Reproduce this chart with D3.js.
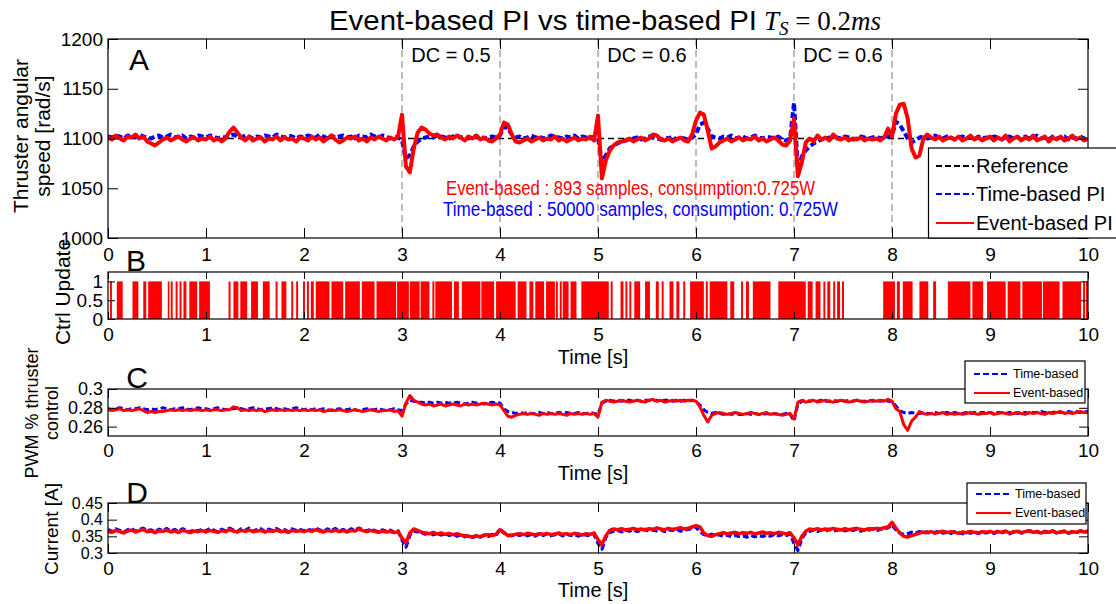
<!DOCTYPE html>
<html><head><meta charset="utf-8">
<script src="https://cdn.jsdelivr.net/npm/d3@7"></script>
<style>
body{margin:0;background:#fff;}
svg{display:block;font-family:"Liberation Sans",Arial,sans-serif;}
</style></head><body>
<svg id="c" width="1116" height="604"></svg>
<script>
// ---------- data ----------
const sampleStep = 0.04; // seconds between samples (t = index * step)
const timeTicks = [0,1,2,3,4,5,6,7,8,9,10];
const speedTicks = [1000,1050,1100,1150,1200];
const updateTicks = [0,0.5,1];
const pwmTicks = [0.26,0.28,0.3];
const currentTicks = [0.3,0.35,0.4,0.45];
const referenceSpeed = [[0,1100],[10,1100]];
const dcLines = [3,4,5,6,7,8];
const dcLabelTimes = [3.5,5.5,7.5];
const dcLabelTexts = ["DC = 0.5","DC = 0.6","DC = 0.6"];

const speedTime = [
1102,1101,1103,1102,1100,1103,1102,1101,1104,1102,1101,1100,1102,1103,1101,1102,1104,1101,1102,1103,1100,1102,1101,1103,1102,
1101,1103,1102,1100,1102,1101,1103,1104,1102,1101,1103,1102,1100,1102,1101,1103,1102,1101,1104,1102,1101,1103,1102,1100,1102,
1101,1103,1102,1101,1104,1102,1100,1103,1101,1102,1103,1101,1102,1100,1103,1102,1101,1104,1102,1101,1103,1102,1100,1102,1101,
1098,1080,1083,1092,1097,1100,1101,1102,1101,1103,1102,1101,1100,1102,1103,1101,1102,1100,1103,1101,1102,1100,1101,1102,1101,
1103,1112,1110,1104,1101,1102,1100,1101,1103,1101,1102,1100,1101,1103,1102,1101,1100,1102,1101,1103,1100,1102,1101,1100,1102,
1100,1077,1083,1090,1093,1095,1097,1098,1099,1100,1101,1099,1100,1102,1101,1100,1099,1101,1100,1102,1099,1101,1100,1099,1101,
1104,1114,1116,1110,1102,1101,1100,1102,1101,1103,1100,1101,1102,1100,1101,1103,1101,1100,1102,1101,1100,1102,1099,1098,1100,
1136,1070,1082,1088,1092,1095,1097,1099,1100,1101,1099,1101,1100,1102,1101,1099,1100,1102,1101,1100,1101,1102,1100,1101,1102,
1103,1117,1114,1107,1100,1096,1098,1101,1102,1100,1101,1103,1101,1100,1102,1101,1099,1101,1102,1100,1101,1099,1102,1100,1101,
1100,1102,1101,1099,1101,1102,1100,1101,1099,1102,1100,1101,1103,1100,1101,1099,1102,1100,1101,1102,1099,1101,1100,1102,1100,
1101];
const speedEvent = [
1101,1099,1103,1100,1098,1102,1101,1104,1100,1102,1097,1095,1093,1096,1099,1101,1098,1100,1102,1099,1097,1100,1101,1098,1100,
1099,1102,1098,1100,1097,1100,1107,1111,1106,1101,1098,1102,1098,1100,1101,1097,1100,1099,1102,1098,1101,1099,1100,1097,1101,
1100,1098,1102,1099,1101,1097,1100,1103,1099,1096,1098,1101,1100,1102,1098,1100,1097,1101,1099,1102,1100,1098,1101,1099,1102,
1124,1072,1066,1090,1106,1111,1109,1105,1103,1104,1101,1099,1102,1100,1103,1101,1098,1102,1100,1103,1099,1101,1098,1097,1100,
1104,1116,1114,1104,1097,1096,1098,1100,1097,1099,1101,1098,1100,1099,1102,1098,1100,1097,1099,1101,1098,1100,1099,1102,1098,
1123,1060,1078,1088,1093,1096,1097,1098,1100,1097,1099,1101,1098,1100,1104,1103,1099,1098,1100,1097,1099,1101,1098,1097,1104,
1118,1126,1124,1108,1090,1092,1096,1098,1100,1097,1099,1101,1098,1100,1099,1102,1098,1100,1097,1099,1101,1098,1094,1093,1098,
1120,1062,1076,1096,1100,1097,1103,1099,1101,1098,1104,1100,1099,1101,1098,1100,1099,1101,1098,1100,1099,1100,1098,1101,1110,
1102,1125,1134,1135,1120,1090,1081,1083,1100,1104,1101,1099,1102,1098,1100,1101,1099,1102,1098,1100,1103,1099,1101,1098,1100,
1102,1098,1101,1099,1103,1097,1100,1102,1098,1101,1099,1103,1098,1100,1102,1097,1101,1099,1102,1098,1100,1103,1099,1101,1098,
1100];

const updateBlocks = [
[0.02,0.04],[0.09,0.15],[0.25,0.31],[0.36,0.39],[0.41,0.55],[0.61,0.62],[0.64,0.66],[0.69,0.71],[0.73,0.75],[0.77,0.80],[0.83,0.91],[0.93,1.04],
[1.23,1.25],[1.28,1.33],[1.35,1.42],[1.46,1.53],[1.58,1.65],[1.71,1.73],[1.77,1.82],[1.87,1.89],[1.92,1.94],[1.99,2.01],[2.03,2.05],[2.07,2.10],
[2.12,2.26],[2.28,2.40],[2.42,2.57],[2.59,2.72],[2.74,2.94],[2.95,3.07],[3.08,3.18],[3.19,3.28],[3.31,3.33],[3.34,3.51],[3.53,3.58],[3.61,3.80],
[3.81,3.94],[3.96,4.16],[4.18,4.27],[4.30,4.34],[4.36,4.45],[4.47,4.56],[4.57,4.59],[4.61,4.63],[4.64,4.70],[4.72,4.78],[4.83,5.11],[5.13,5.15],
[5.23,5.26],[5.28,5.30],[5.32,5.34],[5.37,5.43],[5.48,5.53],[5.59,5.62],[5.65,5.67],[5.73,5.77],[5.80,5.83],[5.87,5.89],[5.94,6.08],[6.10,6.12],
[6.14,6.32],[6.35,6.39],[6.46,6.48],[6.51,6.54],[6.58,6.76],[6.84,7.12],[7.14,7.19],[7.22,7.27],[7.30,7.32],[7.34,7.37],[7.40,7.42],[7.44,7.47],
[7.49,7.51],[7.91,8.03],[8.05,8.08],[8.11,8.21],[8.28,8.37],[8.42,8.45],[8.57,8.80],[8.82,8.93],[8.97,9.16],[9.18,9.31],[9.33,9.53],[9.54,9.71],
[9.74,9.93],[9.95,9.97],[9.98,10.0]];

const pwmTime = [
0.279,0.278,0.279,0.280,0.279,0.278,0.279,0.279,0.280,0.279,0.278,0.279,0.278,0.279,0.280,0.279,0.278,0.279,0.279,0.280,0.279,0.278,0.279,0.280,0.279,
0.279,0.278,0.279,0.280,0.279,0.278,0.279,0.279,0.280,0.279,0.278,0.279,0.280,0.279,0.278,0.279,0.279,0.280,0.279,0.278,0.279,0.278,0.279,0.280,0.279,
0.278,0.279,0.278,0.279,0.278,0.279,0.278,0.277,0.278,0.279,0.278,0.278,0.279,0.278,0.277,0.278,0.279,0.278,0.278,0.279,0.278,0.277,0.278,0.279,0.278,
0.277,0.284,0.288,0.287,0.286,0.286,0.285,0.286,0.285,0.286,0.285,0.286,0.285,0.285,0.286,0.285,0.284,0.285,0.286,0.285,0.285,0.284,0.285,0.286,0.285,
0.285,0.279,0.276,0.275,0.274,0.275,0.274,0.275,0.274,0.274,0.275,0.274,0.275,0.274,0.274,0.275,0.274,0.275,0.274,0.274,0.275,0.274,0.274,0.275,0.274,
0.273,0.285,0.287,0.288,0.287,0.288,0.287,0.288,0.288,0.287,0.288,0.287,0.288,0.288,0.287,0.288,0.287,0.288,0.288,0.287,0.288,0.287,0.288,0.287,0.288,
0.287,0.283,0.278,0.275,0.274,0.275,0.274,0.273,0.274,0.273,0.274,0.273,0.273,0.274,0.273,0.274,0.273,0.273,0.274,0.273,0.274,0.273,0.273,0.274,0.273,
0.266,0.284,0.287,0.288,0.287,0.288,0.287,0.288,0.287,0.287,0.288,0.287,0.288,0.287,0.288,0.287,0.288,0.287,0.287,0.288,0.287,0.288,0.287,0.288,0.287,
0.287,0.282,0.277,0.275,0.274,0.275,0.274,0.274,0.275,0.274,0.274,0.275,0.274,0.274,0.275,0.274,0.275,0.274,0.274,0.275,0.274,0.275,0.274,0.275,0.275,
0.275,0.274,0.275,0.275,0.274,0.275,0.275,0.274,0.275,0.275,0.274,0.275,0.275,0.276,0.275,0.274,0.275,0.276,0.275,0.275,0.276,0.275,0.276,0.275,0.276,
0.276];
const pwmEvent = [
0.278,0.277,0.278,0.279,0.277,0.278,0.277,0.278,0.279,0.277,0.275,0.276,0.275,0.276,0.276,0.277,0.278,0.277,0.278,0.277,0.278,0.277,0.278,0.278,0.277,
0.278,0.277,0.278,0.278,0.277,0.278,0.278,0.281,0.280,0.277,0.278,0.277,0.278,0.277,0.278,0.276,0.277,0.278,0.277,0.278,0.277,0.278,0.277,0.278,0.277,
0.278,0.277,0.278,0.277,0.278,0.276,0.277,0.278,0.277,0.278,0.277,0.276,0.277,0.278,0.277,0.276,0.277,0.278,0.277,0.276,0.277,0.277,0.278,0.276,0.277,
0.271,0.285,0.293,0.288,0.286,0.284,0.283,0.284,0.282,0.283,0.284,0.282,0.283,0.284,0.283,0.282,0.284,0.283,0.284,0.283,0.284,0.285,0.284,0.283,0.284,
0.283,0.277,0.271,0.270,0.272,0.273,0.274,0.273,0.274,0.273,0.272,0.274,0.273,0.274,0.273,0.274,0.273,0.272,0.274,0.273,0.274,0.273,0.274,0.273,0.274,
0.270,0.286,0.288,0.287,0.286,0.287,0.288,0.287,0.286,0.287,0.288,0.287,0.286,0.288,0.289,0.287,0.288,0.286,0.287,0.288,0.287,0.288,0.287,0.288,0.288,
0.287,0.281,0.272,0.265,0.272,0.274,0.275,0.274,0.273,0.274,0.275,0.274,0.273,0.274,0.275,0.274,0.273,0.274,0.275,0.273,0.274,0.273,0.272,0.273,0.274,
0.268,0.286,0.288,0.286,0.287,0.288,0.286,0.287,0.288,0.287,0.286,0.287,0.288,0.287,0.286,0.287,0.288,0.287,0.286,0.287,0.288,0.287,0.288,0.287,0.289,
0.287,0.279,0.276,0.262,0.256,0.266,0.270,0.276,0.274,0.273,0.274,0.273,0.274,0.275,0.273,0.274,0.273,0.274,0.273,0.274,0.275,0.274,0.273,0.274,0.274,
0.275,0.273,0.274,0.275,0.274,0.273,0.274,0.275,0.274,0.273,0.275,0.274,0.275,0.274,0.273,0.275,0.274,0.275,0.276,0.274,0.275,0.274,0.275,0.276,0.275,
0.275];

const currentTime = [
0.370,0.364,0.372,0.367,0.362,0.369,0.373,0.365,0.370,0.374,0.366,0.369,0.363,0.371,0.367,0.373,0.365,0.370,0.364,0.372,0.368,0.363,0.370,0.366,0.371,
0.366,0.373,0.368,0.363,0.371,0.366,0.374,0.369,0.364,0.372,0.367,0.374,0.365,0.370,0.372,0.364,0.371,0.367,0.373,0.366,0.370,0.363,0.372,0.367,0.370,
0.366,0.371,0.367,0.374,0.369,0.364,0.372,0.367,0.373,0.365,0.370,0.364,0.372,0.368,0.374,0.370,0.365,0.372,0.367,0.363,0.369,0.365,0.368,0.362,0.366,
0.340,0.318,0.355,0.366,0.364,0.360,0.357,0.362,0.355,0.359,0.354,0.360,0.353,0.357,0.351,0.355,0.349,0.353,0.347,0.352,0.348,0.354,0.350,0.355,0.353,
0.372,0.360,0.355,0.352,0.357,0.353,0.358,0.352,0.356,0.351,0.357,0.353,0.358,0.352,0.355,0.359,0.352,0.357,0.353,0.356,0.351,0.357,0.354,0.352,0.356,
0.330,0.312,0.348,0.362,0.366,0.368,0.364,0.369,0.366,0.370,0.365,0.368,0.371,0.366,0.369,0.367,0.371,0.365,0.370,0.368,0.372,0.366,0.369,0.371,0.374,
0.378,0.365,0.356,0.352,0.356,0.351,0.355,0.350,0.354,0.349,0.353,0.350,0.352,0.348,0.353,0.349,0.352,0.350,0.354,0.351,0.356,0.352,0.355,0.353,0.357,
0.330,0.308,0.345,0.360,0.366,0.369,0.365,0.370,0.367,0.371,0.366,0.369,0.372,0.367,0.370,0.368,0.372,0.366,0.370,0.369,0.373,0.367,0.371,0.374,0.376,
0.385,0.370,0.360,0.355,0.358,0.362,0.359,0.364,0.360,0.363,0.358,0.362,0.365,0.360,0.363,0.359,0.364,0.361,0.358,0.363,0.360,0.364,0.359,0.362,0.361,
0.363,0.359,0.365,0.361,0.364,0.358,0.363,0.366,0.360,0.363,0.367,0.361,0.364,0.359,0.365,0.362,0.366,0.360,0.363,0.365,0.359,0.364,0.361,0.366,0.364,
0.365];
const currentEvent = [
0.365,0.362,0.368,0.364,0.360,0.366,0.369,0.363,0.367,0.370,0.364,0.366,0.361,0.367,0.365,0.369,0.363,0.366,0.362,0.368,0.365,0.361,0.366,0.364,0.367,
0.363,0.368,0.365,0.362,0.367,0.364,0.370,0.366,0.363,0.368,0.365,0.369,0.364,0.366,0.368,0.363,0.367,0.365,0.369,0.364,0.366,0.362,0.368,0.365,0.367,
0.364,0.368,0.365,0.370,0.366,0.363,0.368,0.365,0.369,0.364,0.367,0.363,0.368,0.366,0.372,0.367,0.364,0.368,0.365,0.362,0.366,0.363,0.365,0.361,0.364,
0.345,0.330,0.360,0.372,0.368,0.362,0.360,0.358,0.362,0.357,0.360,0.356,0.359,0.355,0.358,0.354,0.352,0.350,0.348,0.351,0.349,0.353,0.355,0.352,0.356,
0.370,0.362,0.352,0.353,0.356,0.358,0.355,0.359,0.357,0.354,0.358,0.356,0.359,0.355,0.357,0.360,0.356,0.358,0.355,0.359,0.357,0.354,0.358,0.356,0.360,
0.340,0.325,0.352,0.368,0.372,0.370,0.373,0.369,0.371,0.374,0.370,0.372,0.369,0.373,0.371,0.375,0.372,0.370,0.374,0.371,0.373,0.376,0.372,0.374,0.378,
0.382,0.378,0.360,0.352,0.350,0.355,0.358,0.361,0.357,0.360,0.362,0.358,0.361,0.359,0.362,0.357,0.360,0.363,0.359,0.361,0.358,0.362,0.360,0.357,0.361,
0.345,0.325,0.350,0.365,0.372,0.370,0.373,0.369,0.372,0.370,0.374,0.371,0.369,0.373,0.370,0.372,0.374,0.371,0.369,0.373,0.371,0.374,0.372,0.376,0.378,
0.392,0.375,0.360,0.350,0.348,0.352,0.356,0.360,0.363,0.361,0.364,0.360,0.363,0.365,0.361,0.364,0.362,0.359,0.363,0.361,0.365,0.362,0.360,0.364,0.362,
0.365,0.361,0.364,0.362,0.366,0.360,0.363,0.365,0.361,0.364,0.367,0.362,0.365,0.360,0.364,0.362,0.366,0.361,0.363,0.365,0.360,0.364,0.362,0.366,0.363,
0.364];

// ---------- drawing ----------
const svg = d3.select("#c");
const SANS = "'Liberation Sans',Arial,sans-serif";
const RED = "#ff0000", BLUE = "#0000ff";
const X0 = 108, X1 = 1088;
const x = d3.scaleLinear().domain([0,10]).range([X0,X1]);

const panels = {
  A:{top:39,bottom:238,domain:[1000,1200],ticks:speedTicks,pad:10,tick:10,fs:19},
  B:{top:272,bottom:319,domain:[0,1.25],ticks:updateTicks,pad:9,tick:7,fs:19},
  C:{top:389,bottom:436,domain:[0.25,0.30],ticks:pwmTicks,pad:8,tick:9,fs:18},
  D:{top:503,bottom:553,domain:[0.30,0.45],ticks:currentTicks,pad:9,tick:9,fs:16}
};
const defs = svg.append("defs");
Object.entries(panels).forEach(([k,p])=>{
  p.y = d3.scaleLinear().domain(p.domain).range([p.bottom,p.top]);
  defs.append("clipPath").attr("id","clip"+k).append("rect")
    .attr("x",X0).attr("y",p.top).attr("width",X1-X0).attr("height",p.bottom-p.top);
});

function drawAxes(p){
  const g = svg.append("g");
  g.append("rect").attr("x",X0).attr("y",p.top).attr("width",X1-X0).attr("height",p.bottom-p.top)
    .attr("fill","none").attr("stroke","#000").attr("stroke-width",1.2);
  const gb = g.append("g").attr("transform",`translate(0,${p.bottom})`)
    .call(d3.axisBottom(x).tickValues(timeTicks).tickFormat(d=>String(d)).tickSizeInner(-p.tick).tickSizeOuter(0).tickPadding(p.pad));
  g.append("g").attr("transform",`translate(0,${p.top})`)
    .call(d3.axisTop(x).tickValues(timeTicks).tickFormat("").tickSizeInner(-p.tick).tickSizeOuter(0));
  const gl = g.append("g").attr("transform",`translate(${X0},0)`)
    .call(d3.axisLeft(p.y).tickValues(p.ticks).tickFormat(d=>String(d)).tickSizeInner(-p.tick).tickSizeOuter(0).tickPadding(5));
  g.append("g").attr("transform",`translate(${X1},0)`)
    .call(d3.axisRight(p.y).tickValues(p.ticks).tickFormat("").tickSizeInner(-p.tick).tickSizeOuter(0));
  g.selectAll(".domain").remove();
  g.selectAll("g").attr("font-family",SANS);
  gb.attr("font-size",19);
  gl.attr("font-size",p.fs);
  g.selectAll("text").attr("fill","#000");
  g.selectAll(".tick line").attr("stroke","#000").attr("stroke-width",1);
}

function drawSeries(k, values, color, dashed, width){
  const p = panels[k];
  const line = d3.line().x((d,i)=>x(i*sampleStep)).y(d=>p.y(d));
  svg.append("path").datum(values).attr("clip-path",`url(#clip${k})`)
    .attr("d",line).attr("fill","none").attr("stroke",color)
    .attr("stroke-width",width).attr("stroke-linejoin","round")
    .attr("stroke-dasharray",dashed?"6,3":null);
}

// Panel A
const pA = panels.A;
svg.append("g").selectAll("line").data(dcLines).join("line")
  .attr("x1",d=>x(d)).attr("x2",d=>x(d)).attr("y1",pA.top).attr("y2",pA.bottom)
  .attr("stroke","#a8a8a8").attr("stroke-width",1.5).attr("stroke-dasharray","7,4");
svg.append("path").datum(referenceSpeed)
  .attr("d",d3.line().x(d=>x(d[0])).y(d=>pA.y(d[1])))
  .attr("stroke","#000").attr("stroke-width",1.5).attr("stroke-dasharray","6,4").attr("fill","none");
drawSeries("A",speedTime,BLUE,true,4);
drawSeries("A",speedEvent,RED,false,4);
drawAxes(pA);

// Panel B
const pB = panels.B;
svg.append("g").attr("clip-path","url(#clipB)").selectAll("rect").data(updateBlocks).join("rect")
  .attr("x",d=>x(d[0])).attr("width",d=>Math.max(x(d[1])-x(d[0]),1.6))
  .attr("y",pB.y(1)).attr("height",pB.y(0)-pB.y(1)).attr("fill",RED);
drawAxes(pB);

// Panel C
drawSeries("C",pwmTime,BLUE,true,3);
drawSeries("C",pwmEvent,RED,false,3);
drawAxes(panels.C);

// Panel D
drawSeries("D",currentTime,BLUE,true,3.5);
drawSeries("D",currentEvent,RED,false,3.5);
drawAxes(panels.D);

// ---------- texts ----------
function txt(xp,yp,s,size,opts={}){
  const t = svg.append("text").attr("x",xp).attr("y",yp).attr("font-size",size)
    .attr("font-family",opts.family||SANS).attr("fill",opts.fill||"#000")
    .attr("text-anchor",opts.anchor||"start").text(s);
  if(opts.rotate) t.attr("transform",`rotate(-90,${xp},${yp})`);
  if(opts.len) t.attr("textLength",opts.len).attr("lengthAdjust","spacingAndGlyphs");
  return t;
}
// title
txt(329,30,"Event-based PI vs time-based PI",28,{len:428});
const m = svg.append("text").attr("x",764).attr("y",30).attr("font-size",27)
  .attr("font-family","'Liberation Serif','Times New Roman',serif");
m.append("tspan").attr("font-style","italic").text("T");
m.append("tspan").attr("font-style","italic").attr("font-size",19).attr("dy",5).text("S");
m.append("tspan").attr("dy",-5).text(" = 0.2");
m.append("tspan").attr("font-style","italic").text("ms");

// panel letters
txt(139,70,"A",30,{anchor:"middle"});
txt(136,271,"B",30,{anchor:"middle"});
txt(137,388,"C",30,{anchor:"middle"});
txt(137,503,"D",30,{anchor:"middle"});

// DC labels
dcLabelTimes.forEach((t,i)=>txt(x(t),62,dcLabelTexts[i],20,{anchor:"middle"}));

// annotations
const NARROW = "'Liberation Sans Narrow','Arial Narrow',Arial,sans-serif";
txt(446,195,"Event-based : 893 samples, consumption:0.725W",20,{family:NARROW,fill:RED,len:369});
txt(443,216,"Time-based : 50000 samples, consumption: 0.725W",20,{family:NARROW,fill:BLUE,len:395});

// axis labels
txt(28,136,"Thruster angular",21,{anchor:"middle",rotate:true});
txt(50,136,"speed [rad/s]",21,{anchor:"middle",rotate:true});
txt(70,292,"Ctrl Update",21,{anchor:"middle",rotate:true});
txt(38,413,"PWM % thruster",18,{anchor:"middle",rotate:true});
txt(58,413,"control",18,{anchor:"middle",rotate:true});
txt(58,529,"Current [A]",19,{anchor:"middle",rotate:true});
txt(593,364,"Time [s]",20,{anchor:"middle"});
txt(593,480,"Time [s]",20,{anchor:"middle"});
txt(593,597,"Time [s]",20,{anchor:"middle"});

// ---------- legends ----------
function legend(bx,by,bw,bh,items,size,lx0,lx1,tx){
  const g = svg.append("g");
  g.append("rect").attr("x",bx).attr("y",by).attr("width",bw).attr("height",bh)
    .attr("fill","#fff").attr("stroke","#000").attr("stroke-width",1.2);
  items.forEach(it=>{
    g.append("line").attr("x1",lx0).attr("x2",lx1).attr("y1",it.y).attr("y2",it.y)
      .attr("stroke",it.color).attr("stroke-width",2).attr("stroke-dasharray",it.dash?"6,3":null);
    g.append("text").attr("x",tx).attr("y",it.y).attr("dy","0.35em").attr("font-size",size)
      .attr("font-family",SANS).text(it.label);
  });
}
legend(928.5,148,200,90,[
  {label:"Reference",color:"#000",dash:true,y:166},
  {label:"Time-based PI",color:BLUE,dash:true,y:194},
  {label:"Event-based PI",color:RED,dash:false,y:223}],20,936,974,976);
legend(965,361,120,42,[
  {label:"Time-based",color:BLUE,dash:true,y:374},
  {label:"Event-based",color:RED,dash:false,y:393}],12.5,974,1010,1013);
legend(967,483,119,41,[
  {label:"Time-based",color:BLUE,dash:true,y:494},
  {label:"Event-based",color:RED,dash:false,y:513}],12.5,976,1011,1015);
</script>
</body></html>
